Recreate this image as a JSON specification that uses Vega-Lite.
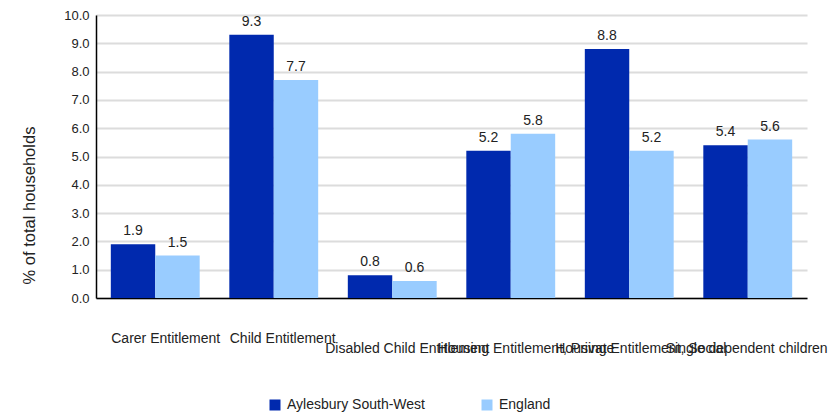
{
  "$schema": "https://vega.github.io/schema/vega-lite/v6.json",
  "width": 711,
  "height": 283,
  "autosize": "none",
  "padding": {"left": 96, "top": 15, "right": 28, "bottom": 115},
  "background": "white",
  "config": {
    "font": "Liberation Sans",
    "view": {"stroke": null},
    "axis": {"labelFont": "Liberation Sans", "titleFont": "Liberation Sans", "labelColor": "#222", "titleColor": "#222"},
    "legend": {"labelFont": "Liberation Sans"}
  },
  "data": {
    "values": [
      {"category": "Carer Entitlement", "series": "Aylesbury South-West", "value": 1.9},
      {"category": "Carer Entitlement", "series": "England", "value": 1.5},
      {"category": "Child Entitlement", "series": "Aylesbury South-West", "value": 9.3},
      {"category": "Child Entitlement", "series": "England", "value": 7.7},
      {"category": "Disabled Child Entitlement", "series": "Aylesbury South-West", "value": 0.8},
      {"category": "Disabled Child Entitlement", "series": "England", "value": 0.6},
      {"category": "Housing Entitlement, Private", "series": "Aylesbury South-West", "value": 5.2},
      {"category": "Housing Entitlement, Private", "series": "England", "value": 5.8},
      {"category": "Housing Entitlement, Social", "series": "Aylesbury South-West", "value": 8.8},
      {"category": "Housing Entitlement, Social", "series": "England", "value": 5.2},
      {"category": "Single dependent children", "series": "Aylesbury South-West", "value": 5.4},
      {"category": "Single dependent children", "series": "England", "value": 5.6}
    ]
  },
  "encoding": {
    "x": {
      "field": "category",
      "type": "nominal",
      "sort": null,
      "scale": {"paddingInner": 0.25, "paddingOuter": 0.125},
      "axis": {
        "title": null,
        "labelAngle": 0,
        "labelFontSize": 14,
        "labelAlign": "left",
        "labelBaseline": "top",
        "labelLimit": 0,
        "labelOverlap": false,
        "ticks": false,
        "tickSize": 0,
        "domainColor": "#000",
        "domainWidth": 1.5,
        "grid": false,
        "labelPadding": {"condition": {"test": "datum.value == 'Carer Entitlement' || datum.value == 'Child Entitlement'", "value": 33}, "value": 43},
        "labelOffset": {
          "condition": [
            {"test": "datum.value == 'Carer Entitlement'", "value": -44},
            {"test": "datum.value == 'Child Entitlement'", "value": -44},
            {"test": "datum.value == 'Disabled Child Entitlement'", "value": -67},
            {"test": "datum.value == 'Housing Entitlement, Private'", "value": -73},
            {"test": "datum.value == 'Housing Entitlement, Social'", "value": -74}
          ],
          "value": -82
        }
      }
    },
    "xOffset": {"field": "series", "type": "nominal", "sort": ["Aylesbury South-West", "England"]},
    "y": {
      "field": "value",
      "type": "quantitative",
      "scale": {"domain": [0, 10], "nice": false},
      "axis": {
        "title": "% of total households",
        "titleFontSize": 16.5,
        "titleFontWeight": "normal",
        "titlePadding": 26,
        "titleY": 190,
        "titleAlign": "center",
        "format": ".1f",
        "values": [0, 1, 2, 3, 4, 5, 6, 7, 8, 9, 10],
        "labelOverlap": false,
        "labelFontSize": 13,
        "labelPadding": 7,
        "ticks": false,
        "tickSize": 0,
        "domainColor": "#000",
        "domainWidth": 1.5,
        "gridColor": "#dcdcdc",
        "gridWidth": 2
      }
    }
  },
  "layer": [
    {
      "mark": {"type": "bar"},
      "encoding": {
        "color": {
          "field": "series",
          "type": "nominal",
          "scale": {"domain": ["Aylesbury South-West", "England"], "range": ["#0029AE", "#99CCFF"]},
          "legend": {
            "title": null,
            "orient": "none",
            "direction": "horizontal",
            "legendX": 172,
            "legendY": 383,
            "symbolType": "square",
            "symbolSize": 121,
            "symbolStrokeWidth": 0,
            "labelFontSize": 14,
            "labelColor": "#222",
            "labelOffset": 5,
            "columnPadding": 55
          }
        }
      }
    },
    {
      "mark": {"type": "text", "baseline": "bottom", "dy": -6, "fontSize": 14, "color": "#222"},
      "encoding": {
        "text": {"field": "value", "type": "quantitative", "format": ".1f"}
      }
    }
  ]
}
